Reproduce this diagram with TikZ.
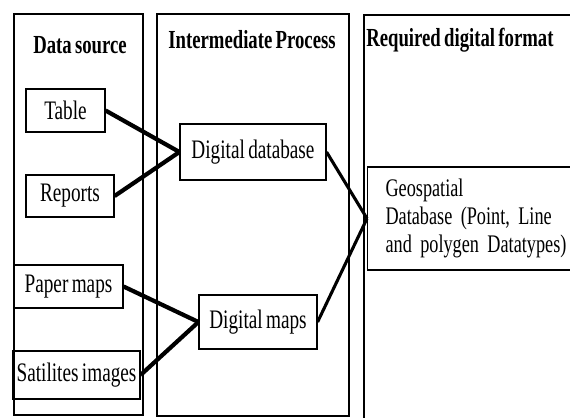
\documentclass[tikz,border=0pt]{standalone}
\usepackage{fontspec}
\setmainfont[FakeStretch=0.72, WordSpace=0.7]{Liberation Serif}
\usepackage{tikz}
\usetikzlibrary{arrows.meta, positioning}

\begin{document}
\begin{tikzpicture}[
    x=0.025cm, y=-0.025cm,
    every node/.style={
        font=\fontsize{19}{21}\selectfont
    },
    box/.style={
        rectangle,
        draw=black,
        line width=0.8pt,
        inner sep=0pt,
        align=center
    },
    column/.style={
        draw=black,
        line width=0.8pt
    },
    head/.style={
        font=\fontsize{18.5}{21}\selectfont\bfseries
    },
    link/.style={
        line width=3pt
    },
    linkb/.style={
        line width=2.2pt
    }
]

% Frame of the page
\useasboundingbox (0,0) rectangle (570,417);

% Columns
\draw[column] (14,14)  rectangle (143,415);
\draw[column] (157,14) rectangle (349,416);
\draw[column] (364,15) rectangle (620,440);

% Titles
\node[head] (hsrc)  at (80,45)  {Data source};
\node[head] (hproc) at (252,40) {Intermediate Process};
\node[head, anchor=west, inner xsep=0pt] (hfmt) at (366,40) {Required digital format};

% Data sources
\node[box, minimum width=1.975cm, minimum height=1.075cm] (table)   at (65.5,110.5) {Table};
\node[box, minimum width=2.2cm,   minimum height=1.05cm]  (reports) at (70,196)     {Reports};
\node[box, minimum width=2.725cm, minimum height=1.075cm] (paper)   at (68.5,286.5) {Paper maps};
\node[box, minimum width=3.175cm, minimum height=1.2cm]   (sat)     at (76.5,375)   {Satilites images};

% Intermediate process
\node[box, minimum width=3.65cm, minimum height=1.4cm]  (ddb)   at (253,152) {Digital database};
\node[box, minimum width=2.95cm, minimum height=1.35cm] (dmaps) at (258,322) {Digital maps};

% Required format
\node[box, anchor=west, align=left, text width=8cm, inner xsep=0.45cm,
      minimum height=2.575cm,
      font=\fontsize{18}{20}\selectfont] (geo) at (367,218.5)
    {Geospatial\\Database (Point,~Line\\and polygen Datatypes)};

% Connectors
\draw[link] (table.east)   -- (ddb.west);
\draw[link] (reports.east) -- (ddb.west);
\draw[link] (paper.east)   -- (dmaps.west);
\draw[link] (sat.east)     -- (dmaps.west);

\draw[linkb] (ddb.east)   -- (geo.west);
\draw[linkb] (dmaps.east) -- (geo.west);

\end{tikzpicture}
\end{document}
